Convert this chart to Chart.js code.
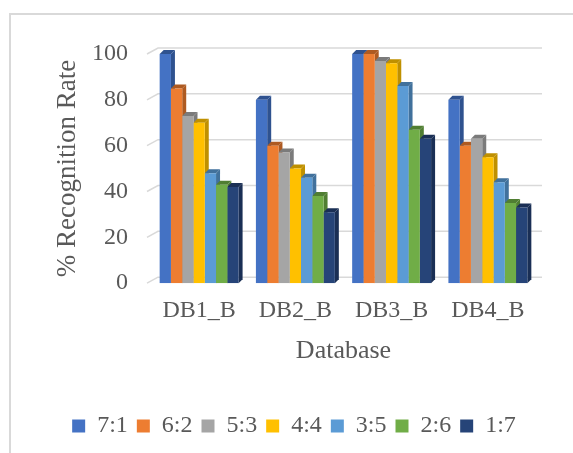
<!DOCTYPE html>
<html>
<head>
<meta charset="utf-8">
<script src="https://cdn.jsdelivr.net/npm/chart.js@4.4.0/dist/chart.umd.min.js"></script>
<style>
  body { margin: 0; background: #fff; }
  #wrap { position: relative; width: 573px; height: 453px; }
  #frame { position: absolute; left: 9px; top: 13px; right: -2px; bottom: -2px; border-top: 2px solid #d9d9d9; border-left: 2px solid #d9d9d9; }
  canvas { position: absolute; left: 0; top: 0; }
</style>
</head>
<body>
<div id="wrap">
  <div id="frame"></div>
  <canvas id="myChart" width="573" height="453"></canvas>
</div>
<script>
var categories = ['DB1_B', 'DB2_B', 'DB3_B', 'DB4_B'];
var seriesNames = ['7:1', '6:2', '5:3', '4:4', '3:5', '2:6', '1:7'];
// one array per ratio, values per database
var r71 = [100, 80, 100, 80];
var r62 = [85, 60, 100, 60];
var r53 = [73, 57, 97, 63];
var r44 = [70, 50, 96, 55];
var r35 = [48, 46, 86, 44];
var r26 = [43, 38, 67, 35];
var r17 = [42, 31, 63, 33];
var yTicks = [0, 20, 40, 60, 80, 100];

var values = [r71, r62, r53, r44, r35, r26, r17];
var fronts = ['#4472C4', '#ED7D31', '#A5A5A5', '#FFC000', '#5B9BD5', '#70AD47', '#264478'];
var sides  = ['#2F528F', '#AE5A21', '#7B7B7B', '#BF9000', '#41719C', '#507E32', '#1A2F55'];

var datasets = [];
for (var i = 0; i < seriesNames.length; i++) {
  datasets.push({
    label: seriesNames[i],
    data: values[i],
    backgroundColor: fronts[i],
    borderWidth: 0
  });
}

var serif = "'Liberation Serif', 'Times New Roman', serif";
var grey = '#595959';

// fake 3D: back-wall gridlines and bar sides/tops, drawn under the bar fronts
var depth3d = {
  id: 'depth3d',
  beforeDatasetsDraw: function (chart) {
    var ctx = chart.ctx;
    var y = chart.scales.y;
    var area = chart.chartArea;
    ctx.save();
    ctx.strokeStyle = '#d9d9d9';
    ctx.lineWidth = 1.5;
    yTicks.forEach(function (t) {
      var py = y.getPixelForValue(t);
      ctx.beginPath();
      ctx.moveTo(area.left - 4, py);
      ctx.lineTo(area.left + 7, py - 6);
      ctx.lineTo(area.right + 6, py - 6);
      ctx.stroke();
    });
    var d = 4;
    chart.data.datasets.forEach(function (ds, di) {
      var meta = chart.getDatasetMeta(di);
      meta.data.forEach(function (bar) {
        var l = bar.x - bar.width / 2, r = bar.x + bar.width / 2;
        ctx.fillStyle = sides[di];
        ctx.beginPath();
        ctx.moveTo(r, bar.y);
        ctx.lineTo(r + d, bar.y - d);
        ctx.lineTo(r + d, bar.base - d);
        ctx.lineTo(r, bar.base);
        ctx.closePath();
        ctx.fill();
        ctx.beginPath();
        ctx.moveTo(l, bar.y);
        ctx.lineTo(l + d, bar.y - d);
        ctx.lineTo(r + d, bar.y - d);
        ctx.lineTo(r, bar.y);
        ctx.closePath();
        ctx.fill();
      });
    });
    ctx.restore();
  }
};

var ctx = document.getElementById('myChart');

new Chart(ctx, {
  type: 'bar',
  data: { labels: categories, datasets: datasets },
  plugins: [depth3d],
  options: {
    responsive: false,
    animation: false,
    layout: { padding: { left: 52, right: 37, top: 54, bottom: 5 } },
    datasets: { bar: { categoryPercentage: 0.82, barPercentage: 1.0 } },
    scales: {
      x: {
        grid: { display: false, drawTicks: false },
        border: { display: false },
        ticks: { color: grey, font: { family: serif, size: 24 }, padding: 13 },
        title: { display: true, text: 'Database', color: grey, font: { family: serif, size: 26, lineHeight: 1.0 }, padding: { top: 0, bottom: 41 } }
      },
      y: {
        min: 0, max: 100,
        afterBuildTicks: function (scale) {
          scale.ticks = yTicks.map(function (v) { return { value: v }; });
        },
        afterFit: function (scale) { scale.width = 99; },
        grid: { display: false, drawTicks: false },
        border: { display: false },
        ticks: { color: grey, font: { family: serif, size: 24 }, padding: 23 },
        title: { display: true, text: '% Recognition Rate', color: grey, font: { family: serif, size: 27 }, padding: 0 }
      }
    },
    plugins: {
      legend: {
        position: 'bottom',
        labels: { color: grey, font: { family: serif, size: 24 }, boxWidth: 13, boxHeight: 13, padding: 9 }
      },
      tooltip: { enabled: false }
    }
  }
});
</script>
</body>
</html>
